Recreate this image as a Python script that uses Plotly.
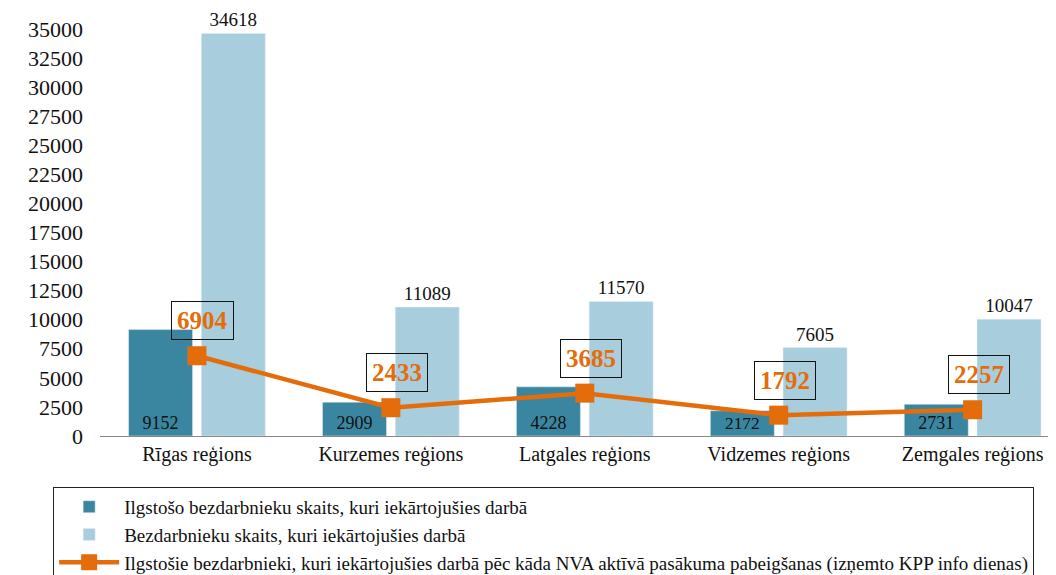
import plotly.graph_objects as go

categories = ["Rīgas reģions", "Kurzemes reģions", "Latgales reģions", "Vidzemes reģions", "Zemgales reģions"]
long_term_employed = [9152, 2909, 4228, 2172, 2731]
all_employed = [34618, 11089, 11570, 7605, 10047]
after_measures = [6904, 2433, 3685, 1792, 2257]

name_dark = "Ilgstošo bezdarbnieku skaits, kuri iekārtojušies darbā"
name_light = "Bezdarbnieku skaits, kuri iekārtojušies darbā"
name_line = "Ilgstošie bezdarbnieki, kuri iekārtojušies darbā pēc kāda NVA aktīvā pasākuma pabeigšanas (izņemto KPP info dienas)"

serif = "Liberation Serif"
dark_c = "#3A86A0"
light_c = "#A8CEDE"
orange = "#E46C0A"

fig = go.Figure()
fig.add_trace(go.Bar(
    x=categories, y=long_term_employed, name=name_dark, legendgroup="a",
    marker=dict(color=dark_c),
    text=[str(v) for v in long_term_employed],
    textposition="inside", insidetextanchor="start",
    textfont=dict(family=serif, size=18, color="#111111"),
    cliponaxis=False,
))
fig.add_trace(go.Bar(
    x=categories, y=all_employed, name=name_light, legendgroup="b",
    marker=dict(color=light_c),
    text=[str(v) for v in all_employed],
    textposition="outside",
    textfont=dict(family=serif, size=19, color="#111111"),
    cliponaxis=False,
))
fig.add_trace(go.Scatter(
    x=categories, y=after_measures, name=name_line, legendgroup="c",
    mode="lines+markers",
    line=dict(color=orange, width=4.5),
    marker=dict(symbol="square", size=19, color=orange),
))

for c, v in zip(categories, after_measures):
    fig.add_annotation(
        x=c, y=v, text="<b>%d</b>" % v, showarrow=False,
        yshift=35, xshift=6,
        font=dict(family=serif, size=25, color=orange),
        bordercolor="#111111", borderwidth=1, borderpad=5,
    )

fig.update_layout(
    width=1056, height=575,
    margin=dict(l=92, r=8, t=21, b=147, autoexpand=False),
    paper_bgcolor="white", plot_bgcolor="white",
    barmode="group", bargap=0.25, bargroupgap=0.12,
    font=dict(family=serif, color="#111111"),
    showlegend=True,
    legend=dict(
        orientation="v", x=-0.049, y=-0.125, xanchor="left", yanchor="top",
        bordercolor="#222222", borderwidth=1,
        font=dict(family=serif, size=19, color="#111111"),
        traceorder="normal", tracegroupgap=10, itemwidth=60,
    ),
    xaxis=dict(
        range=[-0.5, 4.43], showgrid=False, showline=True, linecolor="#888888", linewidth=1,
        ticks="", tickfont=dict(family=serif, size=20, color="#111111"),
    ),
    yaxis=dict(
        range=[0, 35000], dtick=2500, tick0=0, showgrid=False, showline=False,
        zeroline=False, ticks="", tickformat="d", ticklabelstandoff=16,
        tickfont=dict(family=serif, size=22, color="#111111"),
    ),
)

fig.write_html("out.html")
